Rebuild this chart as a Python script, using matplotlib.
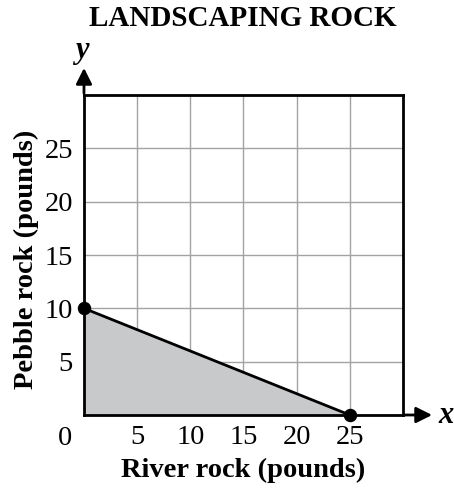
import matplotlib.pyplot as plt

# boundary line of the shaded region
river = [0, 25]
pebble = [10, 0]
ticks = [5, 10, 15, 20, 25]
tick_labels = ["5", "10", "15", "20", "25"]

plt.rcParams["font.family"] = ["Liberation Serif", "DejaVu Serif"]

fig = plt.figure(figsize=(4.54, 4.92), dpi=100)
ax = fig.add_axes([0.185, 0.1565, 0.7026, 0.6504])

ax.set_xlim(0, 30)
ax.set_ylim(0, 30)

# shaded region under the line
ax.fill_between(river, pebble, 0, color="#c8c9cb", zorder=1)
ax.plot(river, pebble, color="black", lw=2, zorder=3)
ax.scatter(river, pebble, s=75, color="black", zorder=4, clip_on=False)

ax.set_xticks(ticks)
ax.set_yticks(ticks)
ax.set_xticklabels(tick_labels, fontsize=20.5)
ax.set_yticklabels(tick_labels, fontsize=20.5)
ax.tick_params(axis="x", length=0, pad=7)
ax.tick_params(axis="y", length=0, pad=8)
ax.grid(True, color="#a3a3a3", lw=1)
ax.set_axisbelow(True)
for s in ax.spines.values():
    s.set_linewidth(2)

# zero at the corner
ax.text(-1.8, -2.2, "0", fontsize=20.5, ha="center", va="center")

# axis arrows
ax.annotate("", xy=(33.0, 0), xytext=(29.9, 0), annotation_clip=False,
            arrowprops=dict(arrowstyle="-|>", color="black", lw=2,
                            mutation_scale=24))
ax.annotate("", xy=(0, 32.8), xytext=(0, 29.9), annotation_clip=False,
            arrowprops=dict(arrowstyle="-|>", color="black", lw=2,
                            mutation_scale=24))
ax.text(33.3, 0, "x", fontsize=22, style="italic", weight="bold",
        ha="left", va="center")
ax.text(-0.2, 34.2, "y", fontsize=22, style="italic", weight="bold",
        ha="center", va="center")

ax.set_xlabel("River rock (pounds)", fontsize=20.5, weight="bold")
ax.set_ylabel("Pebble rock (pounds)", fontsize=20.5, weight="bold")
ax.xaxis.set_label_coords(0.498, -0.172)
ax.xaxis.label.set_va("center")
ax.yaxis.set_label_coords(-0.179, 0.4875)
ax.yaxis.label.set_va("center")
fig.text(0.534, 0.963, "LANDSCAPING ROCK", fontsize=21, weight="bold",
         ha="center", va="center")

fig.savefig("out.png", dpi=100)
